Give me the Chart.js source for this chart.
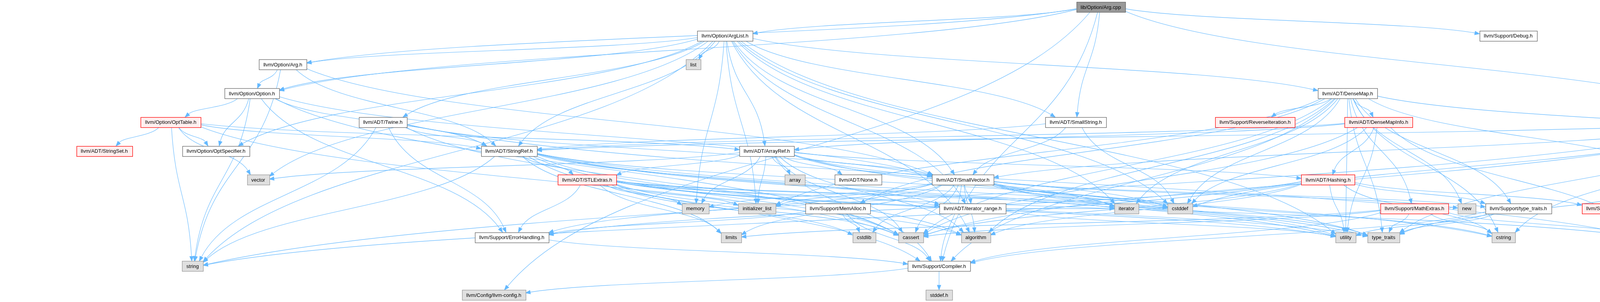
<!DOCTYPE html>
<html>
<head>
<meta charset="utf-8">
<script src="https://cdn.jsdelivr.net/npm/chart.js@4.4.0/dist/chart.umd.min.js"></script>
<style>
html,body{margin:0;padding:0;background:#ffffff;}
#wrap{width:5490px;height:773px;position:relative;}
</style>
</head>
<body>
<div id="wrap"><canvas id="c"></canvas></div>
<script>
// ---- data: nodes of the include graph (x = horizontal position, rank = graph level) ----
const nodeNames = [
  "lib/Option/Arg.cpp",
  "llvm/Option/ArgList.h","llvm/Support/Debug.h",
  "llvm/Option/Arg.h","list",
  "llvm/Option/Option.h","llvm/ADT/DenseMap.h",
  "llvm/Option/OptTable.h","llvm/ADT/Twine.h","llvm/ADT/SmallString.h","llvm/Support/ReverseIteration.h","llvm/ADT/DenseMapInfo.h","llvm/Support/raw_ostream.h",
  "llvm/ADT/StringSet.h","llvm/Option/OptSpecifier.h","llvm/ADT/StringRef.h","llvm/ADT/ArrayRef.h","chrono","system_error","llvm/ADT/EpochTracker.h",
  "vector","llvm/ADT/STLExtras.h","array","llvm/ADT/None.h","llvm/ADT/SmallVector.h","llvm/ADT/Hashing.h","llvm/Support/AlignOf.h",
  "memory","initializer_list","llvm/Support/MemAlloc.h","llvm/ADT/iterator_range.h","iterator","cstddef","llvm/Support/MathExtras.h","new","llvm/Support/type_traits.h","llvm/Support/DataTypes.h",
  "llvm/Support/ErrorHandling.h","limits","cstdlib","cassert","algorithm","utility","type_traits","cstring","cstdint",
  "string","llvm/Support/Compiler.h",
  "llvm/Config/llvm-config.h","stddef.h"
];
const nodeX = [
  2818,
  1856,3861,
  724,1775,
  645,3450,
  437,980,2754,3213,3529,4537,
  267,553,1303,1963,4782,4885,5094,
  661,1503,2035,2197,2465,3400,4347,
  1780,1938,2145,2490,2884,3021,3621,3755,3887,4135,
  1310,1872,2212,2332,2498,3445,3542,3849,4222,
  493,2404,
  1264,2404
];
const nodeRank = [
  0,
  1,1,
  2,2,
  3,3,
  4,4,4,4,4,4,
  5,5,5,5,5,5,5,
  6,6,6,6,6,6,6,
  7,7,7,7,7,7,7,7,7,7,
  8,8,8,8,8,8,8,8,8,
  9,9,
  10,10
];
// root = documented file, file = header, truncated = graph cut, system = not documented
const nodeKind = [
  "root",
  "file","file",
  "file","system",
  "file","file",
  "truncated","file","file","truncated","truncated","file",
  "truncated","file","file","file","system","system","truncated",
  "system","truncated","system","file","file","truncated","file",
  "system","system","file","file","system","system","truncated","system","file","truncated",
  "file","system","system","system","system","system","system","system","system",
  "system","file",
  "system","system"
];
// ---- data: include relations (source, included files) ----
const includeSources = [
  "lib/Option/Arg.cpp","llvm/Option/ArgList.h","llvm/Option/Arg.h","llvm/Option/Option.h","llvm/Option/OptTable.h",
  "llvm/ADT/Twine.h","llvm/ADT/SmallString.h","llvm/ADT/DenseMap.h","llvm/ADT/DenseMapInfo.h","llvm/Support/raw_ostream.h",
  "llvm/ADT/StringRef.h","llvm/ADT/ArrayRef.h","llvm/ADT/STLExtras.h","llvm/ADT/SmallVector.h","llvm/ADT/Hashing.h",
  "llvm/Support/AlignOf.h","llvm/ADT/EpochTracker.h","llvm/Support/MemAlloc.h","llvm/ADT/iterator_range.h","llvm/Support/MathExtras.h",
  "llvm/Support/type_traits.h","llvm/Support/ErrorHandling.h","llvm/Support/Compiler.h"
];
const includeTargets = [
  ["llvm/Option/Arg.h","llvm/ADT/SmallString.h","llvm/Config/llvm-config.h","llvm/Option/ArgList.h","llvm/Option/Option.h","llvm/Support/Compiler.h","llvm/Support/Debug.h","llvm/Support/raw_ostream.h"],
  ["llvm/ADT/ArrayRef.h","llvm/ADT/DenseMap.h","llvm/ADT/iterator_range.h","llvm/ADT/SmallString.h","llvm/ADT/SmallVector.h","llvm/ADT/StringRef.h","llvm/ADT/Twine.h","llvm/Option/Arg.h","llvm/Option/OptSpecifier.h","llvm/Option/Option.h","algorithm","cstddef","initializer_list","iterator","list","memory","string","utility","vector"],
  ["llvm/ADT/SmallVector.h","llvm/ADT/StringRef.h","llvm/Option/Option.h","string"],
  ["llvm/ADT/SmallVector.h","llvm/ADT/StringRef.h","llvm/Option/OptSpecifier.h","llvm/Option/OptTable.h","llvm/Support/ErrorHandling.h","cassert","string"],
  ["llvm/ADT/ArrayRef.h","llvm/ADT/StringRef.h","llvm/ADT/StringSet.h","llvm/Option/OptSpecifier.h","cassert","string","vector"],
  ["llvm/ADT/SmallVector.h","llvm/ADT/StringRef.h","llvm/Support/ErrorHandling.h","cassert","cstdint","string"],
  ["llvm/ADT/SmallVector.h","llvm/ADT/StringRef.h","cstddef"],
  ["llvm/ADT/DenseMapInfo.h","llvm/ADT/EpochTracker.h","llvm/Support/AlignOf.h","llvm/Support/Compiler.h","llvm/Support/MathExtras.h","llvm/Support/MemAlloc.h","llvm/Support/ReverseIteration.h","llvm/Support/type_traits.h","algorithm","cassert","cstddef","cstring","initializer_list","iterator","new","type_traits","utility"],
  ["llvm/ADT/ArrayRef.h","llvm/ADT/Hashing.h","llvm/ADT/StringRef.h","cassert","cstddef","cstdint","utility"],
  ["llvm/ADT/SmallVector.h","llvm/ADT/StringRef.h","llvm/Support/DataTypes.h","cassert","chrono","cstddef","cstdint","cstring","string","system_error","type_traits"],
  ["llvm/ADT/STLExtras.h","llvm/ADT/iterator_range.h","llvm/Support/Compiler.h","algorithm","cassert","cstddef","cstring","limits","string","type_traits","utility"],
  ["llvm/ADT/Hashing.h","llvm/ADT/None.h","llvm/ADT/SmallVector.h","llvm/ADT/STLExtras.h","llvm/Support/Compiler.h","algorithm","array","cassert","cstddef","initializer_list","iterator","memory","type_traits","vector"],
  ["llvm/ADT/iterator_range.h","llvm/Support/ErrorHandling.h","algorithm","cassert","cstddef","cstdint","cstdlib","initializer_list","iterator","limits","memory","type_traits","utility"],
  ["llvm/ADT/iterator_range.h","llvm/Support/Compiler.h","llvm/Support/ErrorHandling.h","llvm/Support/MemAlloc.h","llvm/Support/type_traits.h","algorithm","cassert","cstddef","cstdlib","cstring","initializer_list","iterator","limits","memory","new","type_traits","utility"],
  ["llvm/Support/DataTypes.h","llvm/Support/ErrorHandling.h","llvm/Support/type_traits.h","algorithm","cassert","cstring","string","utility"],
  ["type_traits"],
  ["cstdint"],
  ["llvm/Support/Compiler.h","llvm/Support/ErrorHandling.h","cstdlib"],
  ["iterator","utility"],
  ["llvm/Support/Compiler.h","cassert","cstdint","cstring","limits","type_traits"],
  ["llvm/Support/Compiler.h","type_traits","utility"],
  ["llvm/Support/Compiler.h"],
  ["llvm/Config/llvm-config.h","stddef.h"]
];

// ---- styles ----
const FONT = "13px 'Liberation Sans', Arial, Helvetica, sans-serif";
const BOX_H = 26, PAD = 11;
const EDGE_COLOR = "#63B8FF";
const KIND_STYLE = {
  root:      {fill:"#999999", stroke:"#666666"},
  file:      {fill:"#FFFFFF", stroke:"#666666"},
  truncated: {fill:"#FFF0F0", stroke:"#FF0000"},
  system:    {fill:"#E0E0E0", stroke:"#999999"}
};

function boxes(chart){
  const ctx = chart.ctx, xs = chart.scales.x, ys = chart.scales.y;
  ctx.save(); ctx.font = FONT;
  const out = nodeNames.map((n,i)=>{
    const w = Math.round(ctx.measureText(n).width) + 2*PAD;
    return {cx: xs.getPixelForValue(nodeX[i]), cy: ys.getPixelForValue(nodeRank[i]), hw: w/2, hh: BOX_H/2};
  });
  ctx.restore();
  return out;
}
function clip(b, dx, dy){
  const ax = Math.abs(dx), ay = Math.abs(dy);
  let t = Infinity;
  if (ax > 1e-6) t = Math.min(t, b.hw/ax);
  if (ay > 1e-6) t = Math.min(t, b.hh/ay);
  return {x: b.cx + dx*t, y: b.cy + dy*t};
}

const graphPlugin = {
  id: 'graph',
  beforeDatasetsDraw(chart){
    const ctx = chart.ctx;
    const bx = boxes(chart);
    const idx = {}; nodeNames.forEach((n,i)=>idx[n]=i);
    ctx.save();
    ctx.strokeStyle = EDGE_COLOR; ctx.fillStyle = EDGE_COLOR; ctx.lineWidth = 1.1;
    includeSources.forEach((src, k)=>{
      includeTargets[k].forEach(tgt=>{
        const a = bx[idx[src]], b = bx[idx[tgt]];
        if (!a || !b) return;
        let dx = b.cx - a.cx, dy = b.cy - a.cy;
        const L = Math.hypot(dx,dy); dx/=L; dy/=L;
        const s = clip(a, dx, dy), e = clip(b, -dx, -dy);
        const DX = e.x - s.x, DY = e.y - s.y;
        const c1 = {x: s.x + 0.2*DX, y: s.y + 0.5*DY};
        const c2 = {x: s.x + 0.8*DX, y: s.y + 0.5*DY};
        let ux = e.x - c2.x, uy = e.y - c2.y; const ul = Math.hypot(ux,uy)||1; ux/=ul; uy/=ul;
        const AL = 12, AW = 4.6;
        const bxp = e.x - ux*AL, byp = e.y - uy*AL;
        ctx.beginPath();
        ctx.moveTo(s.x, s.y);
        ctx.bezierCurveTo(c1.x, c1.y, c2.x, c2.y, bxp, byp);
        ctx.stroke();
        ctx.beginPath();
        ctx.moveTo(e.x, e.y);
        ctx.lineTo(bxp - uy*AW, byp + ux*AW);
        ctx.lineTo(bxp + uy*AW, byp - ux*AW);
        ctx.closePath();
        ctx.fill(); ctx.stroke();
      });
    });
    ctx.restore();
  },
  afterDatasetsDraw(chart){
    const ctx = chart.ctx;
    const bx = boxes(chart);
    ctx.save();
    ctx.font = FONT; ctx.textAlign = 'center'; ctx.textBaseline = 'middle';
    nodeNames.forEach((n,i)=>{
      const b = bx[i], st = KIND_STYLE[nodeKind[i]];
      const x = Math.round(b.cx - b.hw) + 0.5, y = Math.round(b.cy - b.hh) + 0.5;
      ctx.fillStyle = st.fill; ctx.fillRect(x, y, 2*b.hw, 2*b.hh);
      ctx.strokeStyle = st.stroke; ctx.lineWidth = 1.3; ctx.strokeRect(x, y, 2*b.hw, 2*b.hh);
      ctx.fillStyle = '#000000';
      ctx.fillText(n, b.cx, b.cy + 1);
    });
    ctx.restore();
  }
};

new Chart(document.getElementById('c'), {
  type: 'scatter',
  data: { datasets: [{ data: nodeNames.map((n,i)=>({x: nodeX[i], y: nodeRank[i]})), pointRadius: 0, pointHoverRadius: 0 }] },
  options: {
    responsive: true, maintainAspectRatio: false, animation: false, devicePixelRatio: 1,
    layout: { padding: 0 },
    events: [],
    plugins: { legend: {display:false}, tooltip: {enabled:false}, title: {display:false} },
    scales: {
      x: { type:'linear', min: 0, max: 5490, display: false },
      y: { type:'linear', min: -0.244, max: 10.244, reverse: true, display: false }
    }
  },
  plugins: [graphPlugin]
});
</script>
</body>
</html>
